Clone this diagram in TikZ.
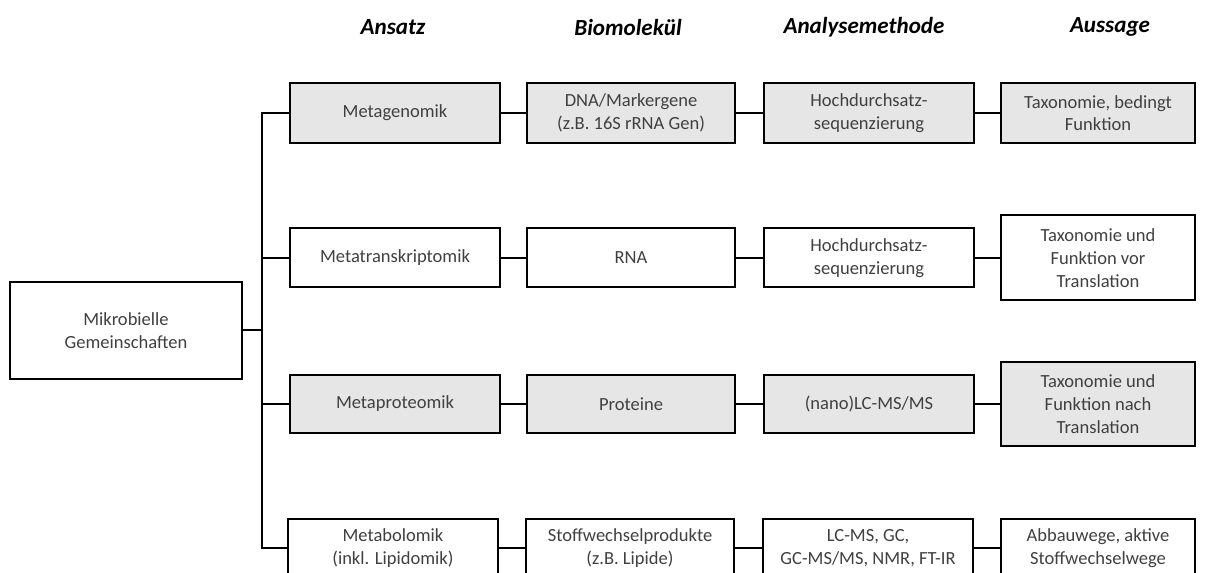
\documentclass[tikz,border=0pt]{standalone}
\usepackage{fontspec}
\setmainfont{Carlito}
\definecolor{boxgray}{HTML}{E7E6E6}
\definecolor{txtgray}{HTML}{404040}
\begin{document}
\begin{tikzpicture}[x=0.75pt,y=-0.75pt,
  box/.style={draw=black, line width=1.5pt, align=center, inner sep=0pt,
    text=txtgray, font=\fontsize{13.9pt}{17pt}\selectfont},
  gbox/.style={box, fill=boxgray},
  wbox/.style={box, fill=white},
  conn/.style={draw=black, line width=1.5pt},
  head/.style={font=\fontsize{17.3pt}{20pt}\selectfont\bfseries\itshape, text=black, inner sep=0pt}]
\useasboundingbox (0,0) rectangle (1206,573);
\clip (0,0) rectangle (1206,573);
% headers
\node[head] (h1) at (393,27) {Ansatz};
\node[head] (h2) at (628,27) {Biomolekül};
\node[head] (h3) at (864,27) {Analysemethode};
\node[head] (h4) at (1110,27) {Aussage};
% root
\node[wbox, minimum width=232*0.75pt, minimum height=97*0.75pt] (root) at (126,330.5) {Mikrobielle\\Gemeinschaften};
% row 1
\node[gbox, minimum width=210*0.75pt, minimum height=60*0.75pt] (r1c1) at (395,113) {Metagenomik};
\node[gbox, minimum width=208*0.75pt, minimum height=60*0.75pt] (r1c2) at (631,113) {DNA/Markergene\\(z.B. 16S rRNA Gen)};
\node[gbox, minimum width=210*0.75pt, minimum height=60*0.75pt] (r1c3) at (869,113) {Hochdurchsatz-\\sequenzierung};
\node[gbox, minimum width=194*0.75pt, minimum height=60*0.75pt] (r1c4) at (1098,113) {Taxonomie, bedingt\\Funktion};
% row 2
\node[wbox, minimum width=210*0.75pt, minimum height=59*0.75pt] (r2c1) at (395,258) {Metatranskriptomik};
\node[wbox, minimum width=208*0.75pt, minimum height=59*0.75pt] (r2c2) at (631,258) {RNA};
\node[wbox, minimum width=210*0.75pt, minimum height=59*0.75pt] (r2c3) at (869,258) {Hochdurchsatz-\\sequenzierung};
\node[wbox, minimum width=194*0.75pt, minimum height=85*0.75pt] (r2c4) at (1098,258) {Taxonomie und\\Funktion vor\\Translation};
% row 3
\node[gbox, minimum width=210*0.75pt, minimum height=57*0.75pt] (r3c1) at (395,404) {Metaproteomik};
\node[gbox, minimum width=208*0.75pt, minimum height=57*0.75pt] (r3c2) at (631,404) {Proteine};
\node[gbox, minimum width=210*0.75pt, minimum height=57*0.75pt] (r3c3) at (869,404) {(nano)LC-MS/MS};
\node[gbox, minimum width=194*0.75pt, minimum height=84*0.75pt] (r3c4) at (1098,404) {Taxonomie und\\Funktion nach\\Translation};
% row 4
\node[wbox, minimum width=210*0.75pt, minimum height=58*0.75pt] (r4c1) at (393,548) {Metabolomik\\(inkl. Lipidomik)};
\node[wbox, minimum width=208*0.75pt, minimum height=58*0.75pt] (r4c2) at (630,548) {Stoffwechselprodukte\\(z.B. Lipide)};
\node[wbox, minimum width=210*0.75pt, minimum height=58*0.75pt] (r4c3) at (868,548) {LC-MS, GC,\\GC-MS/MS, NMR, FT-IR};
\node[wbox, minimum width=194*0.75pt, minimum height=58*0.75pt] (r4c4) at (1098,548) {Abbauwege, aktive\\Stoffwechselwege};
% trunk
\coordinate (t0) at (262,330.5);
\coordinate (t1) at (262,113);
\coordinate (t2) at (262,258);
\coordinate (t3) at (262,404);
\coordinate (t4) at (262,548);
\draw[conn] (root.east) -- (t0);
\draw[conn, line cap=rect] (t1) -- (t4);
\draw[conn] (t1) -- (r1c1.west);
\draw[conn] (t2) -- (r2c1.west);
\draw[conn] (t3) -- (r3c1.west);
\draw[conn] (t4) -- (r4c1.west);
% row connectors
\draw[conn] (r1c1.east) -- (r1c2.west);
\draw[conn] (r1c2.east) -- (r1c3.west);
\draw[conn] (r1c3.east) -- (r1c4.west);
\draw[conn] (r2c1.east) -- (r2c2.west);
\draw[conn] (r2c2.east) -- (r2c3.west);
\draw[conn] (r2c3.east) -- (r2c4.west);
\draw[conn] (r3c1.east) -- (r3c2.west);
\draw[conn] (r3c2.east) -- (r3c3.west);
\draw[conn] (r3c3.east) -- (r3c4.west);
\draw[conn] (r4c1.east) -- (r4c2.west);
\draw[conn] (r4c2.east) -- (r4c3.west);
\draw[conn] (r4c3.east) -- (r4c4.west);
\end{tikzpicture}
\end{document}
